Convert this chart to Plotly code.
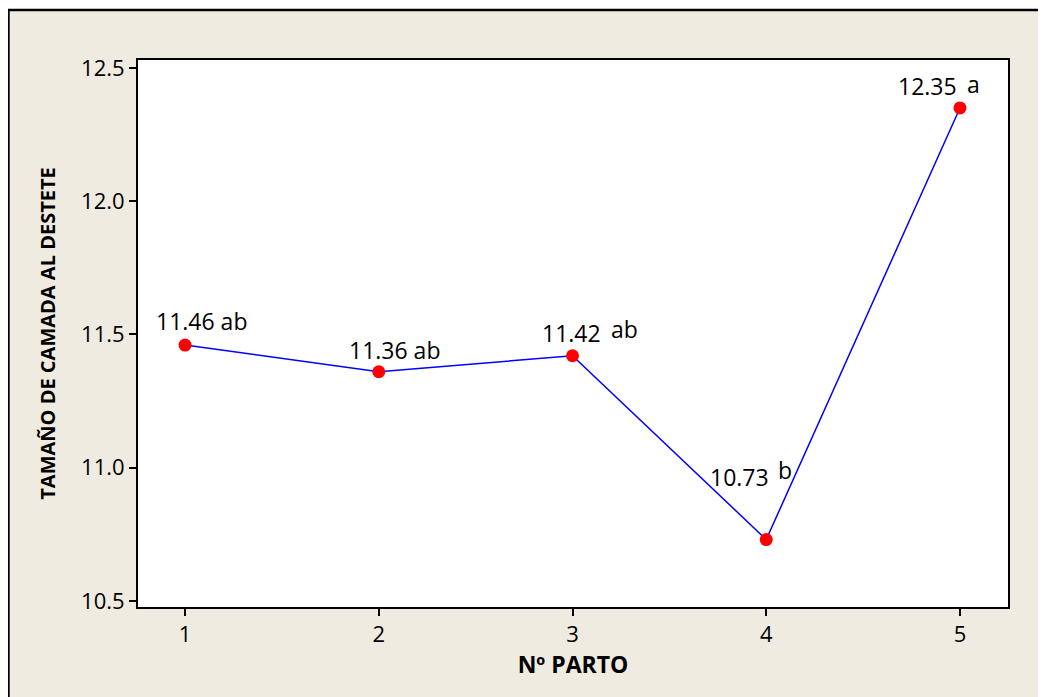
import plotly.graph_objects as go

partos = [1, 2, 3, 4, 5]
medias = [11.46, 11.36, 11.42, 10.73, 12.35]
letras = ["ab", "ab", "ab", "b", "a"]
y_ticks = [10.5, 11.0, 11.5, 12.0, 12.5]
y_ticklabels = ["10.5", "11.0", "11.5", "12.0", "12.5"]

# label offsets in pixels (number label, letter label)
num_shift = [(16, 24, True), (16, 22, True), (-1, 23, False), (-27, 63, False), (-32, 22, False)]
let_shift = [None, None, (52, 27), (19, 70), (14, 24)]

BG = "#EFEBE1"
FONT = "Open Sans"

fig = go.Figure()
fig.add_trace(go.Scatter(
    x=partos, y=medias, mode="lines+markers",
    line=dict(color="#0000FF", width=1.5),
    marker=dict(color="#FF0000", size=13),
    showlegend=False, cliponaxis=False,
))

annotations = []
for i, (x, y) in enumerate(zip(partos, medias)):
    dx, dy, combined = num_shift[i]
    txt = f"{y:.2f} {letras[i]}" if combined else f"{y:.2f}"
    annotations.append(dict(x=x, y=y, xref="x", yref="y", text=txt, showarrow=False,
                            xshift=dx, yshift=dy, font=dict(family=FONT, size=23, color="black")))
    if not combined:
        lx, ly = let_shift[i]
        annotations.append(dict(x=x, y=y, xref="x", yref="y", text=letras[i], showarrow=False,
                                xshift=lx, yshift=ly, font=dict(family=FONT, size=23, color="black")))

fig.update_layout(
    width=1038, height=689,
    margin=dict(l=130, r=38, t=52, b=90),
    paper_bgcolor="white",
    plot_bgcolor="white",
    annotations=annotations,
    font=dict(family=FONT, size=22, color="black"),
    shapes=[
        dict(type="rect", xref="paper", yref="paper", x0=-0.1489, x1=1.2, y0=-0.3, y1=1.0914,
             fillcolor=BG, line=dict(color="black", width=2.5), layer="below"),
        dict(type="rect", xref="paper", yref="paper", x0=0, x1=1, y0=0, y1=1,
             fillcolor="white", line=dict(width=0), layer="below"),
    ],
)

fig.update_xaxes(
    range=[0.757, 5.248], tickvals=partos, ticktext=[str(p) for p in partos],
    showgrid=False, zeroline=False, showline=True, mirror=True,
    linecolor="black", linewidth=2, ticks="outside", ticklen=7, tickwidth=2, tickcolor="black",
    tickfont=dict(family=FONT, size=22, color="black"),
    title=dict(text="<b>Nº PARTO</b>", font=dict(family=FONT, size=23, color="black"), standoff=7),
)
fig.update_yaxes(
    range=[10.477, 12.53], tickvals=y_ticks, ticktext=y_ticklabels,
    showgrid=False, zeroline=False, showline=True, mirror=True,
    linecolor="black", linewidth=2, ticks="outside", ticklen=7, tickwidth=2, tickcolor="black",
    tickfont=dict(family=FONT, size=22, color="black"),
    title=dict(text="<b>TAMAÑO DE CAMADA AL DESTETE</b>", font=dict(family=FONT, size=20, color="black"), standoff=20),
)

fig.write_html("out.html")
